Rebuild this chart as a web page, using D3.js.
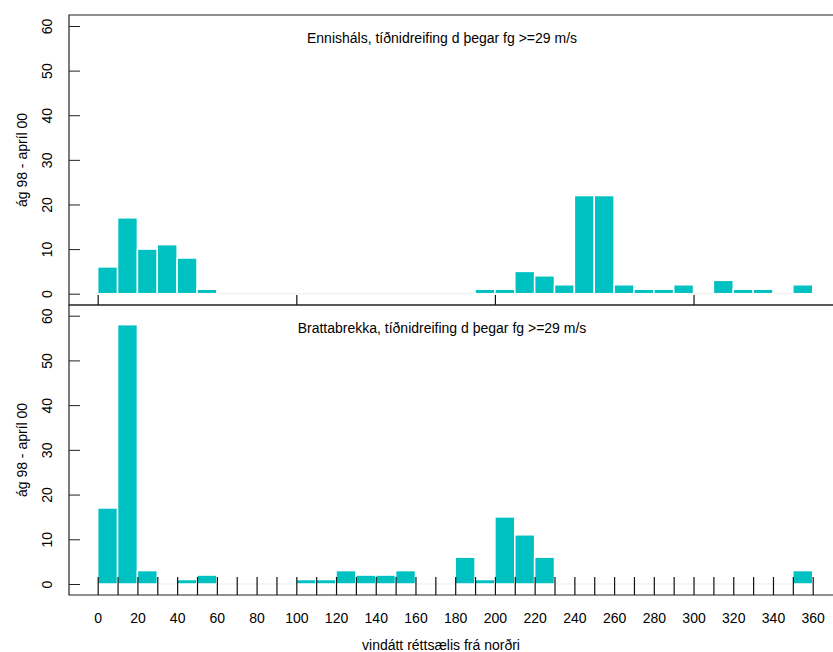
<!DOCTYPE html>
<html>
<head>
<meta charset="utf-8">
<script src="https://cdn.jsdelivr.net/npm/d3@7"></script>
<style>
  body { margin: 0; background: #fff; }
  svg { display: block; }
  text { font-family: "Liberation Sans", Arial, sans-serif; font-size: 14px; fill: #000; }
</style>
</head>
<body>
<script>
'use strict';

// vindátt, neðri mörk hvers 10° bils
const bins = [0, 10, 20, 30, 40, 50, 60, 70, 80, 90, 100, 110, 120, 130, 140, 150, 160, 170,
  180, 190, 200, 210, 220, 230, 240, 250, 260, 270, 280, 290, 300, 310, 320, 330, 340, 350]

const ennishals = [6, 17, 10, 11, 8, 1, 0, 0, 0, 0, 0, 0, 0, 0, 0, 0, 0, 0,
  0, 1, 1, 5, 4, 2, 22, 22, 2, 1, 1, 2, 0, 3, 1, 1, 0, 2]

const brattabrekka = [17, 58, 3, 0, 1, 2, 0, 0, 0, 0, 1, 1, 3, 2, 2, 3, 0, 0,
  6, 1, 15, 11, 6, 0, 0, 0, 0, 0, 0, 0, 0, 0, 0, 0, 0, 3]

const yTicks = [0, 10, 20, 30, 40, 50, 60]
const xLabels = [0, 20, 40, 60, 80, 100, 120, 140, 160, 180, 200, 220, 240, 260, 280, 300, 320, 340, 360]
const xTicksTop = [0, 100, 200, 300]
const xTicksBottom = [0, 10, 20, 30, 40, 50, 60, 70, 80, 90, 100, 110, 120, 130, 140, 150, 160, 170, 180,
  190, 200, 210, 220, 230, 240, 250, 260, 270, 280, 290, 300, 310, 320, 330, 340, 350, 360]

const yLabel = 'ág 98 - apríl 00'
const xLabel = 'vindátt réttsælis frá norðri'

const breidd = 833
const haed = 652
const litur = '#00C1C1'

const svg = d3.select('body').append('svg')
    .attr('width', breidd)
    .attr('height', haed)

const x = d3.scaleLinear()
    .domain([0, 360])
    .range([97.7, 812.7])

function teiknaGraf(gogn, titill, efst, nedst, yNull, ySextiu, xTicks, tickLengd) {
    const y = d3.scaleLinear()
        .domain([0, 60])
        .range([yNull, ySextiu])

    const g = svg.append('g')

    // grunnlína
    g.append('line')
        .attr('x1', x(0)).attr('x2', x(360))
        .attr('y1', y(0)).attr('y2', y(0))
        .attr('stroke', '#eeeeee')

    const rod = bins.map((b, i) => ({bin: b, v: gogn[i]})).filter(d => d.v > 0)
    g.selectAll('rect.bar').data(rod).enter().append('rect')
        .attr('class', 'bar')
        .attr('x', d => x(d.bin))
        .attr('width', d => x(d.bin + 10) - x(d.bin))
        .attr('y', d => y(d.v))
        .attr('height', d => y(0) - y(d.v))
        .attr('fill', litur)
        .attr('stroke', '#ffffff')
        .attr('stroke-width', 1.5)

    // rammi (vinstri, efri, neðri)
    g.append('path')
        .attr('d', `M850,${efst}H69V${nedst}H850`)
        .attr('fill', 'none')
        .attr('stroke', '#222')
        .attr('stroke-width', 1.2)

    // y-ás
    const yAs = g.append('g')
        .attr('transform', 'translate(80,0)')
        .call(d3.axisLeft(y).tickValues(yTicks).tickSize(11).tickFormat(d3.format('d')))
    yAs.select('.domain').remove()
    yAs.selectAll('line').attr('stroke', '#222')
    yAs.selectAll('text')
        .attr('x', null).attr('dy', null)
        .attr('text-anchor', 'middle')
        .attr('transform', d => `translate(-28,${y(d) - y(d)}) rotate(-90)`)
        .style('font-size', '14px')
        .style('font-family', '"Liberation Sans", Arial, sans-serif')
        .attr('fill', '#000')

    // x-ás strik
    const xAs = g.append('g')
        .attr('transform', `translate(0,${nedst})`)
        .call(d3.axisBottom(x).tickValues(xTicks).tickSize(-tickLengd).tickFormat(''))
    xAs.select('.domain').remove()
    xAs.selectAll('line').attr('stroke', '#111').attr('stroke-width', 1.2)

    g.append('text')
        .attr('x', 442)
        .attr('y', efst + 28)
        .attr('text-anchor', 'middle')
        .text(titill)

    g.append('text')
        .attr('transform', `translate(27,${(efst + nedst) / 2}) rotate(-90)`)
        .attr('text-anchor', 'middle')
        .text(yLabel)
}

teiknaGraf(ennishals, 'Ennisháls, tíðnidreifing d þegar fg >=29 m/s', 15, 305, 293.7, 26, xTicksTop, 10)
teiknaGraf(brattabrekka, 'Brattabrekka, tíðnidreifing d þegar fg >=29 m/s', 305, 595, 584, 315.7, xTicksBottom, 18)

// x-ás merkingar
const xMerki = svg.append('g')
    .attr('transform', 'translate(0,595)')
    .call(d3.axisBottom(x).tickValues(xLabels).tickSize(0).tickPadding(18))
xMerki.select('.domain').remove()
xMerki.selectAll('text')
    .attr('dy', '0.71em')
    .style('font-size', '14px')
    .style('font-family', '"Liberation Sans", Arial, sans-serif')
    .attr('fill', '#000')

svg.append('text')
    .attr('x', 441)
    .attr('y', 650)
    .attr('text-anchor', 'middle')
    .text(xLabel)
</script>
</body>
</html>
